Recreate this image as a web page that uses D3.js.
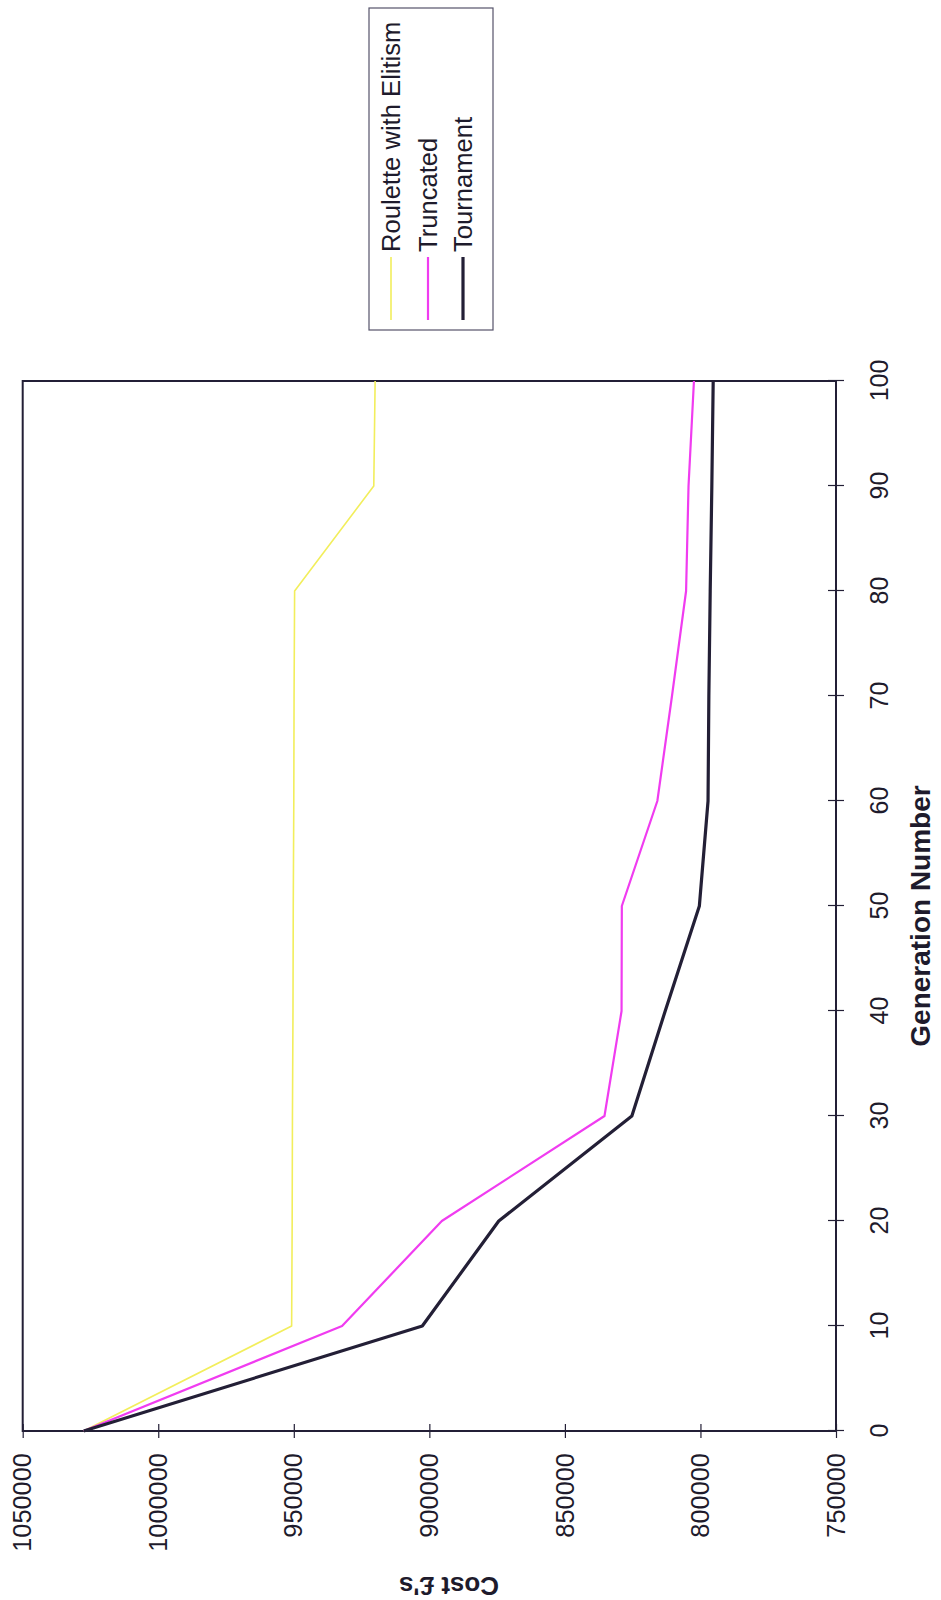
<!DOCTYPE html>
<html lang="en">
<head>
    <meta charset="UTF-8">
    <title>Cost vs Generation Number</title>
    <script src="https://d3js.org/d3.v7.min.js"></script>
    <style>
        body {
            margin: 0;
            padding: 0;
            background: #fff;
            overflow: hidden;
        }
        text {
            font-family: "Liberation Sans", Arial, sans-serif;
            fill: #1e1b2c;
        }
        .frame {
            fill: none;
            stroke: #231f36;
            stroke-width: 2px;
        }
        .tick line {
            stroke: #231f36;
            stroke-width: 1.2px;
        }
        .series {
            fill: none;
            stroke-linejoin: round;
        }
    </style>
</head>
<body>
    <div id="chart"></div>

    <script>
        // generations sampled every 10
        const generations = [0, 10, 20, 30, 40, 50, 60, 70, 80, 90, 100];

        // cost (£)
        const roulette   = [1027500, 950800, 950600, 950500, 950300, 950200, 950000, 949900, 949700, 920500, 920000];
        const truncated  = [1027500, 932200, 895400, 835400, 829100, 829000, 815900, 810500, 805300, 804400, 802400];
        const tournament = [1027500, 902600, 874400, 825300, 813000, 800400, 797200, 796900, 796400, 795800, 795300];

        const costTicks = [1050000, 1000000, 950000, 900000, 850000, 800000, 750000];
        const genTicks = [0, 10, 20, 30, 40, 50, 60, 70, 80, 90, 100];

        const seriesNames = ["Roulette with Elitism", "Truncated", "Tournament"];
        const seriesColors = ["#f2ee5c", "#f03cf0", "#231f36"];
        const seriesWidths = [1.6, 2.2, 3.2];

        const width = 941;
        const height = 1600;

        const svg = d3.select("#chart")
            .append("svg")
            .attr("width", width)
            .attr("height", height);

        // the scanned page is turned a quarter turn, so draw upright and rotate
        const g = svg.append("g")
            .attr("transform", `translate(0,${height}) rotate(-90)`);

        const x = d3.scaleLinear().domain([0, 100]).range([169, 1219]);
        const y = d3.scaleLinear().domain([750000, 1050000]).range([836, 22.7]);

        // cost axis (left)
        const yAxis = g.append("g")
            .attr("transform", `translate(${x(0)},0)`)
            .call(d3.axisLeft(y).tickValues(costTicks).tickFormat(d3.format("d")).tickSize(7).tickPadding(15));
        yAxis.select(".domain").remove();
        yAxis.selectAll(".tick line").attr("x1", 7);
        yAxis.selectAll(".tick text").style("font-size", "25.4px");

        // generation axis (bottom)
        const xAxis = g.append("g")
            .attr("transform", `translate(0,${y(750000)})`)
            .call(d3.axisBottom(x).tickValues(genTicks).tickSize(8).tickPadding(26));
        xAxis.select(".domain").remove();
        xAxis.selectAll(".tick line").attr("y1", -8);
        xAxis.selectAll(".tick text").style("font-size", "25px");

        g.append("rect")
            .attr("class", "frame")
            .attr("x", x(0))
            .attr("y", y(1050000))
            .attr("width", x(100) - x(0))
            .attr("height", y(750000) - y(1050000));

        const line = d3.line()
            .x((d, i) => x(generations[i]))
            .y(d => y(d));

        [roulette, truncated, tournament].forEach((vals, i) => {
            g.append("path")
                .datum(vals)
                .attr("class", "series")
                .attr("stroke", seriesColors[i])
                .attr("stroke-width", seriesWidths[i])
                .attr("d", line);
        });

        // axis titles
        g.append("text")
            .attr("x", 684)
            .attr("y", 930)
            .attr("text-anchor", "middle")
            .style("font-size", "28px")
            .style("font-weight", "bold")
            .text("Generation Number");

        g.append("text")
            .attr("transform", "translate(23,449) rotate(-90)")
            .attr("text-anchor", "middle")
            .style("font-size", "26px")
            .style("font-weight", "bold")
            .text("Cost £'s");

        // legend
        const legend = g.append("g");
        legend.append("rect")
            .attr("x", 1270)
            .attr("y", 369)
            .attr("width", 322)
            .attr("height", 124)
            .attr("fill", "#fff")
            .attr("stroke", "#55536a")
            .attr("stroke-width", 1.2);

        const rowY = [391, 428, 463];
        seriesNames.forEach((name, i) => {
            legend.append("line")
                .attr("x1", 1280)
                .attr("x2", 1343)
                .attr("y1", rowY[i])
                .attr("y2", rowY[i])
                .attr("stroke", seriesColors[i])
                .attr("stroke-width", seriesWidths[i]);
            legend.append("text")
                .attr("x", 1348)
                .attr("y", rowY[i])
                .attr("dy", "0.35em")
                .style("font-size", "25.6px")
                .text(name);
        });
    </script>
</body>
</html>
